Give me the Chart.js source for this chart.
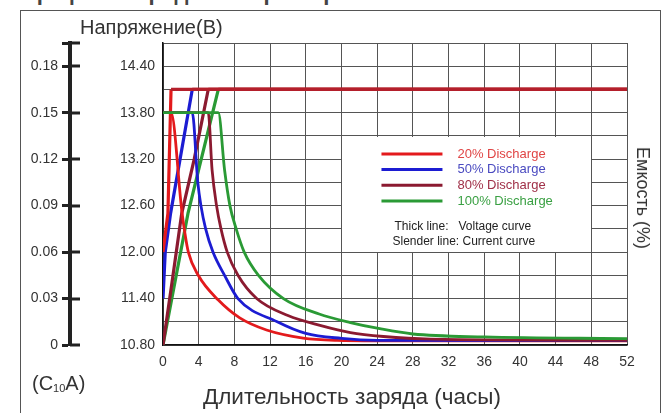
<!DOCTYPE html>
<html>
<head>
<meta charset="utf-8">
<title>Графики зарядных характеристик</title>
<script src="https://cdn.jsdelivr.net/npm/chart.js@4.4.0/dist/chart.umd.min.js"></script>
<style>
    body { margin: 0; background: #fff; font-family: "Liberation Sans", Arial, sans-serif; }
    #wrap { position: relative; width: 666px; height: 413px; overflow: hidden; }
    #frame { position: absolute; left: 20px; top: 10px; width: 641px; height: 440px; border: 1.5px solid #555; box-sizing: border-box; }
    #chart { position: absolute; left: 0; top: 0; }
    .lbl { position: absolute; color: #333; white-space: nowrap; line-height: 24px; }
    #pageTitle { left: 25px; top: -19px; font-size: 22px; font-weight: bold; color: #444; }
    #voltTitle { left: 80px; top: 15px; font-size: 20px; }
    #curUnit { left: 32px; top: 371px; font-size: 20px; }
    #curUnit sub { font-size: 11px; vertical-align: -2px; }
    #capTitle { left: 643px; top: 198px; font-size: 18px; transform: translate(-50%, -50%) rotate(90deg); }
    #hourTitle { left: 203px; top: 385px; font-size: 22.5px; }
</style>
</head>
<body>
<div id="wrap">
    <div class="lbl" id="pageTitle">Графики зарядных характеристик</div>
    <div id="frame"></div>
    <canvas id="chart" width="666" height="413"></canvas>
    <div class="lbl" id="voltTitle">Напряжение(В)</div>
    <div class="lbl" id="curUnit">(C<sub>10</sub>A)</div>
    <div class="lbl" id="capTitle">Емкость (%)</div>
    <div class="lbl" id="hourTitle">Длительность заряда (часы)</div>
</div>

<script>
    // tick labels
    const hourTicks = [0, 4, 8, 12, 16, 20, 24, 28, 32, 36, 40, 44, 48, 52];
    const voltTicks = ['10.80', '11.40', '12.00', '12.60', '13.20', '13.80', '14.40'];
    const currentTicks = ['0', '0.03', '0.06', '0.09', '0.12', '0.15', '0.18'];

    const seriesNames = ['20% Discharge', '50% Discharge', '80% Discharge', '100% Discharge'];

    // voltage curves (thick lines), В
    const volt20Hours = [0, 0.55, 0.9, 52];
    const volt20Values = [12.00, 12.50, 14.10, 14.10];
    const volt50Hours = [0, 0.25, 0.85, 3.28, 52];
    const volt50Values = [11.40, 12.00, 12.50, 14.10, 14.10];
    const volt80Hours = [0, 1.0, 2.1, 3.5, 5.07, 52];
    const volt80Values = [10.80, 11.60, 12.50, 13.20, 14.10, 14.10];
    const volt100Hours = [0, 2.8, 6.2, 52];
    const volt100Values = [10.80, 12.50, 14.10, 14.10];

    // current curves (slender lines), C10A
    const cur20Hours = [0, 0.9, 2.1, 2.46, 2.84, 3.95, 6.2, 8.6, 11.6, 15.7, 19.5, 24, 52];
    const cur20Values = [0.15, 0.15, 0.087, 0.072, 0.060, 0.045, 0.029, 0.0175, 0.0097, 0.0045, 0.003, 0.0027, 0.0027];
    const cur50Hours = [0, 3.28, 3.9, 4.25, 4.78, 5.6, 6.9, 8.4, 12.8, 16, 20, 24, 52];
    const cur50Values = [0.15, 0.15, 0.105, 0.09, 0.075, 0.060, 0.045, 0.030, 0.015, 0.0075, 0.0043, 0.0030, 0.0028];
    const cur80Hours = [0, 5.07, 5.5, 6.0, 6.5, 7.2, 8.4, 10.5, 14, 17.7, 21, 24.7, 30, 52];
    const cur80Values = [0.15, 0.15, 0.113, 0.090, 0.075, 0.060, 0.045, 0.030, 0.019, 0.0125, 0.008, 0.0055, 0.0038, 0.003];
    const cur100Hours = [0, 6.2, 6.9, 7.5, 8.2, 9.1, 10.7, 13.5, 17.5, 21, 24.3, 28, 36, 52];
    const cur100Values = [0.15, 0.15, 0.113, 0.090, 0.075, 0.060, 0.045, 0.030, 0.020, 0.0145, 0.0105, 0.0071, 0.0052, 0.0041];

    // legend box area (in chart units)
    const legendBoxHours = [20, 48];
    const legendBoxVolts = [12.0, 13.5];

    const lineColors = ['#e31a1c', '#1c1cd2', '#8b1a30', '#2a9a35'];
    const textColors = ['#e04545', '#4a4ac0', '#a03048', '#3aa043'];
    const plateauColor = '#b41f2b';

    function pts(hours, values) {
        return hours.map((h, i) => ({ x: h, y: values[i] }));
    }

    function voltSet(i, hours, values) {
        return {
            label: seriesNames[i] + ' V',
            data: pts(hours, values),
            yAxisID: 'y',
            borderColor: lineColors[i],
            borderWidth: 3.2,
            pointRadius: 0,
            tension: 0,
            fill: false,
            segment: {
                // общая полка 14.10 В выглядит тёмно-красной
                borderColor: ctx => ctx.p0.parsed.y >= 14.1 && ctx.p1.parsed.y >= 14.1 ? plateauColor : undefined
            }
        };
    }

    function curSet(i, hours, values) {
        return {
            label: seriesNames[i] + ' I',
            data: pts(hours, values),
            yAxisID: 'yI',
            borderColor: lineColors[i],
            borderWidth: 2.8,
            pointRadius: 0,
            cubicInterpolationMode: 'monotone',
            fill: false
        };
    }

    // первый набор рисуется поверх остальных
    const datasets = [
        curSet(3, cur100Hours, cur100Values),
        curSet(2, cur80Hours, cur80Values),
        curSet(1, cur50Hours, cur50Values),
        curSet(0, cur20Hours, cur20Values),
        voltSet(0, volt20Hours, volt20Values),
        voltSet(1, volt50Hours, volt50Values),
        voltSet(2, volt80Hours, volt80Values),
        voltSet(3, volt100Hours, volt100Values)
    ];

    // белая рамка легенды внутри сетки
    const boxLegend = {
        id: 'boxLegend',
        beforeDatasetsDraw(chart) {
            const { ctx, scales: { x, y } } = chart;
            const left = x.getPixelForValue(legendBoxHours[0]);
            const right = x.getPixelForValue(legendBoxHours[1]);
            const top = y.getPixelForValue(legendBoxVolts[1]);
            const bottom = y.getPixelForValue(legendBoxVolts[0]);
            ctx.save();
            ctx.fillStyle = '#fff';
            ctx.fillRect(Math.round(left) + 1, Math.round(top) + 1, Math.round(right) - Math.round(left) - 1, Math.round(bottom) - Math.round(top) - 1);

            ctx.lineWidth = 3;
            ctx.font = '13px "Liberation Sans", Arial, sans-serif';
            ctx.textBaseline = 'middle';
            ctx.textAlign = 'left';
            for (let i = 0; i < seriesNames.length; i++) {
                const ly = top + 18 + i * 15.7;
                ctx.strokeStyle = lineColors[i];
                ctx.beginPath();
                ctx.moveTo(left + 40, ly);
                ctx.lineTo(left + 101, ly);
                ctx.stroke();
                ctx.fillStyle = textColors[i];
                ctx.fillText(seriesNames[i], left + 116, ly);
            }
            ctx.fillStyle = '#222';
            ctx.font = '12px "Liberation Sans", Arial, sans-serif';
            ctx.fillText('Thick line:   Voltage curve', left + 53, top + 91);
            ctx.fillText('Slender line: Current curve', left + 51, top + 106);
            ctx.restore();
        }
    };

    // засечки оси тока справа от линии оси
    const currentAxisMarks = {
        id: 'currentAxisMarks',
        afterDraw(chart) {
            const { ctx } = chart;
            const s = chart.scales.yI;
            ctx.save();
            ctx.strokeStyle = '#222';
            ctx.lineWidth = 3;
            s.ticks.forEach(t => {
                const py = Math.round(s.getPixelForValue(t.value));
                ctx.beginPath();
                ctx.moveTo(s.right, py);
                ctx.lineTo(s.right + 10, py);
                ctx.stroke();
            });
            ctx.restore();
        }
    };

    new Chart(document.getElementById('chart'), {
        type: 'line',
        data: { datasets: datasets },
        plugins: [boxLegend, currentAxisMarks],
        options: {
            responsive: false,
            animation: false,
            layout: { padding: { left: 20, top: 43, right: 39, bottom: 0 } },
            plugins: { legend: { display: false }, tooltip: { enabled: false } },
            scales: {
                x: {
                    type: 'linear',
                    min: 0,
                    max: 52,
                    afterBuildTicks: s => { s.ticks = hourTicks.map(v => ({ value: v })); },
                    afterFit: s => { s.height = 68; },
                    ticks: {
                        autoSkip: false,
                        maxRotation: 0,
                        padding: 9,
                        color: '#333',
                        font: { size: 14, family: '"Liberation Sans", Arial, sans-serif' },
                        callback: v => String(v)
                    },
                    grid: { color: '#555', lineWidth: 1, drawTicks: false },
                    border: { color: '#111', width: 1.5 }
                },
                y: {
                    type: 'linear',
                    position: 'left',
                    weight: 0,
                    min: 10.8,
                    max: 14.7,
                    afterBuildTicks: s => {
                        const t = [];
                        for (let i = 0; i <= 13; i++) t.push({ value: +(10.8 + 0.3 * i).toFixed(2) });
                        s.ticks = t;
                    },
                    afterFit: s => { s.width = 93; },
                    ticks: {
                        autoSkip: false,
                        padding: 8,
                        color: '#333',
                        font: { size: 14, family: '"Liberation Sans", Arial, sans-serif' },
                        callback: v => {
                            const s = Number(v).toFixed(2);
                            return voltTicks.includes(s) ? s : '';
                        }
                    },
                    grid: { color: '#555', lineWidth: 1, drawTicks: false },
                    border: { color: '#111', width: 1.5 }
                },
                yI: {
                    type: 'linear',
                    position: 'left',
                    weight: 1,
                    min: 0,
                    max: 0.195,
                    afterBuildTicks: s => {
                        s.ticks = currentTicks.map(t => ({ value: parseFloat(t) })).concat([{ value: 0.195 }]);
                    },
                    afterFit: s => { s.width = 50; },
                    ticks: {
                        autoSkip: false,
                        padding: 4,
                        color: '#333',
                        font: { size: 14, family: '"Liberation Sans", Arial, sans-serif' },
                        callback: (v, i) => currentTicks[i] !== undefined ? currentTicks[i] : ''
                    },
                    grid: { drawOnChartArea: false, drawTicks: true, tickLength: 8, tickColor: '#222', tickWidth: 3 },
                    border: { color: '#222', width: 4 }
                }
            }
        }
    });
</script>
</body>
</html>
